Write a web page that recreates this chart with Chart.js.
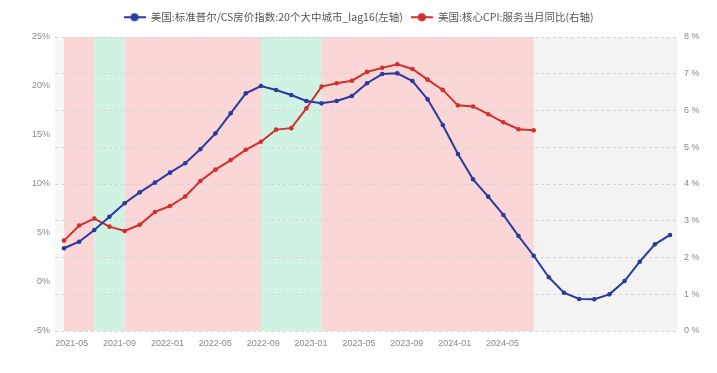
<!DOCTYPE html>
<html>
<head>
<meta charset="utf-8">
<script src="https://cdn.jsdelivr.net/npm/chart.js@4.4.0/dist/chart.umd.min.js"></script>
<style>
  html, body { margin: 0; padding: 0; background: #fff; }
  #wrap { width: 717px; height: 373px; }
</style>
</head>
<body>
<div id="wrap"><canvas id="chart"></canvas></div>
<script>
const months = [
  "2021-04", "2021-05", "2021-06", "2021-07", "2021-08", "2021-09", "2021-10", "2021-11", "2021-12",
  "2022-01", "2022-02", "2022-03", "2022-04", "2022-05", "2022-06", "2022-07", "2022-08", "2022-09",
  "2022-10", "2022-11", "2022-12", "2023-01", "2023-02", "2023-03", "2023-04", "2023-05", "2023-06",
  "2023-07", "2023-08", "2023-09", "2023-10", "2023-11", "2023-12", "2024-01", "2024-02", "2024-03",
  "2024-04", "2024-05", "2024-06", "2024-07", "2024-08"
];
const tickLabels = ["2021-05", "2021-09", "2022-01", "2022-05", "2022-09", "2023-01", "2023-05", "2023-09", "2024-01", "2024-05"];

// left axis, %
const csLag16 = [
  3.44, 4.11, 5.31, 6.66, 8.03, 9.15, 10.14, 11.16, 12.11, 13.54, 15.17, 17.21, 19.25, 20.0,
  19.59, 19.08, 18.47, 18.23, 18.47, 18.98, 20.28, 21.22, 21.29, 20.51, 18.64, 16.02, 13.06,
  10.48, 8.71, 6.84, 4.69, 2.68, 0.48, -1.09, -1.73, -1.76, -1.26, 0.10, 2.07, 3.84, 4.80
];
// right axis, %
const coreServicesCpi = [
  2.46, 2.87, 3.06, 2.84, 2.72, 2.89, 3.24, 3.40, 3.66, 4.08, 4.39, 4.65, 4.93, 5.15, 5.48, 5.52,
  6.06, 6.65, 6.74, 6.81, 7.05, 7.16, 7.26, 7.13, 6.84, 6.56, 6.14, 6.11, 5.90, 5.68, 5.49, 5.46
];

const bandStart = ["2021-04", "2021-06", "2021-08", "2022-05", "2022-09"];
const bandEnd = ["2021-06", "2021-08", "2022-05", "2022-09", "2023-11"];
const bandColor = ["#fad6d6", "#cff2e2", "#fad6d6", "#cff2e2", "#fad6d6"];

const BLUE = "#2b3a9e";
const RED = "#d22f2f";
const FONT = "'Noto Sans CJK SC', 'Noto Sans', sans-serif";
const TICK_FONT = { family: "'Liberation Sans', Arial, sans-serif", size: 9 };

function legendMarker(color) {
  const c = document.createElement("canvas");
  c.width = 22;
  c.height = 10;
  const ctx = c.getContext("2d");
  ctx.strokeStyle = color;
  ctx.lineWidth = 2;
  ctx.beginPath();
  ctx.moveTo(0, 5);
  ctx.lineTo(22, 5);
  ctx.stroke();
  ctx.fillStyle = color;
  ctx.beginPath();
  ctx.arc(11, 5, 4, 0, Math.PI * 2);
  ctx.fill();
  return c;
}

const bandsPlugin = {
  id: "bands",
  beforeDraw(chart) {
    const { ctx, chartArea: a, scales } = chart;
    const x = scales.x;
    ctx.save();
    ctx.fillStyle = "#f8f8f8";
    ctx.fillRect(a.left, a.top, a.right - a.left, a.bottom - a.top);
    const last = x.getPixelForValue(months.indexOf(bandEnd[bandEnd.length - 1]));
    ctx.fillStyle = "#f3f3f3";
    ctx.fillRect(last, a.top, a.right - last, a.bottom - a.top);
    bandStart.forEach((s, i) => {
      const x0 = x.getPixelForValue(months.indexOf(s));
      const x1 = x.getPixelForValue(months.indexOf(bandEnd[i]));
      ctx.fillStyle = bandColor[i];
      ctx.fillRect(x0, a.top, x1 - x0, a.bottom - a.top);
    });
    ctx.restore();
  },
};

const legendHeight = {
  id: "legendHeight",
  beforeInit(chart) {
    const fit = chart.legend.fit;
    chart.legend.fit = function () {
      fit.bind(chart.legend)();
      this.height = 33;
    };
  },
};

const canvas = document.getElementById("chart");
new Chart(canvas, {
  type: "line",
  data: {
    datasets: [
      {
        label: "美国:标准普尔/CS房价指数:20个大中城市_lag16(左轴)",
        data: csLag16.map((v, i) => ({ x: i, y: v })),
        yAxisID: "yL",
        borderColor: BLUE,
        backgroundColor: BLUE,
        borderWidth: 2,
        pointRadius: 2.3,
        pointBorderWidth: 0,
        tension: 0,
      },
      {
        label: "美国:核心CPI:服务当月同比(右轴)",
        data: coreServicesCpi.map((v, i) => ({ x: i, y: v })),
        yAxisID: "yR",
        borderColor: RED,
        backgroundColor: RED,
        borderWidth: 2,
        pointRadius: 2.3,
        pointBorderWidth: 0,
        tension: 0,
      },
    ],
  },
  options: {
    responsive: true,
    maintainAspectRatio: false,
    animation: false,
    layout: { padding: { top: 4 } },
    plugins: {
      tooltip: { enabled: false },
      legend: {
        position: "top",
        labels: {
          usePointStyle: true,
          pointStyleWidth: 22,
          padding: 8,
          color: "#555",
          font: { family: FONT, size: 10.5 },
          generateLabels(chart) {
            return chart.data.datasets.map((ds, i) => ({
              text: ds.label,
              pointStyle: legendMarker(ds.borderColor),
              fillStyle: ds.borderColor,
              strokeStyle: ds.borderColor,
              lineWidth: 0,
              fontColor: "#555",
              datasetIndex: i,
              hidden: false,
            }));
          },
        },
      },
    },
    scales: {
      x: {
        type: "linear",
        display: false,
        min: -0.594,
        max: 40.46,
      },
      xt: {
        type: "linear",
        position: "bottom",
        min: -0.395,
        max: 51.57,
        afterBuildTicks(scale) {
          scale.ticks = tickLabels.map((t, i) => ({ value: 1 + 4 * i }));
        },
        afterFit(scale) {
          scale.height = 42;
        },
        grid: { display: false, drawTicks: false },
        border: { display: false },
        ticks: {
          autoSkip: false,
          maxRotation: 0,
          padding: 7,
          color: "#888",
          font: TICK_FONT,
          callback: (v, i) => tickLabels[i],
        },
      },
      yL: {
        position: "left",
        min: -5,
        max: 25,
        afterFit(scale) {
          scale.width = 55;
        },
        grid: { display: false, drawTicks: false },
        border: { display: false },
        ticks: {
          stepSize: 5,
          padding: 5,
          color: "#888",
          font: TICK_FONT,
          callback: (v) => v + "%",
        },
      },
      yR: {
        position: "right",
        min: 0,
        max: 8,
        afterFit(scale) {
          scale.width = 40;
        },
        grid: {
          color: "#d4d4d4",
          drawTicks: false,
        },
        border: { display: false, dash: [3, 3] },
        ticks: {
          stepSize: 1,
          padding: 7,
          color: "#888",
          font: TICK_FONT,
          callback: (v) => v + " %",
        },
      },
    },
  },
  plugins: [bandsPlugin, legendHeight],
});
</script>
</body>
</html>
